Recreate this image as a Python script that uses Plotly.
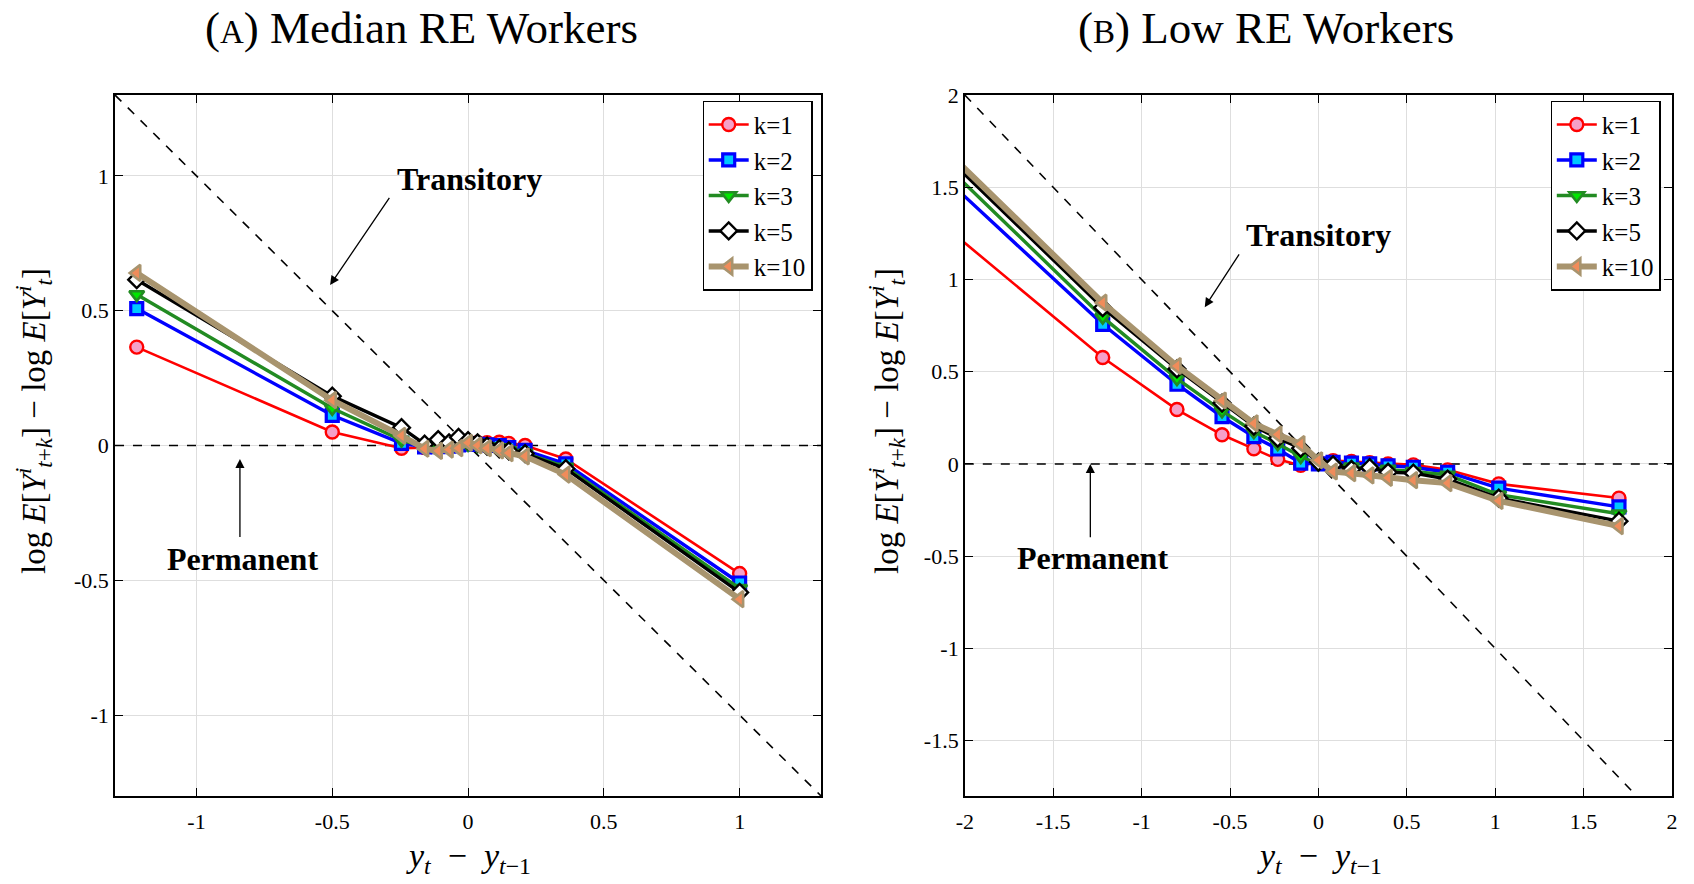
import plotly.graph_objects as go

# ---------------- data ----------------
series_names = ["k=1", "k=2", "k=3", "k=5", "k=10"]

# Panel A: Median RE workers
xA = [-1.22, -0.50, -0.245, -0.16, -0.11, -0.07, -0.035, 0.0, 0.035, 0.07, 0.115, 0.15, 0.21, 0.36, 1.0]
yA_k1 = [0.365, 0.050, -0.010, -0.008, -0.004, 0.000, 0.004, 0.008, 0.010, 0.010, 0.012, 0.008, 0.000, -0.050, -0.475]
yA_k2 = [0.508, 0.112, 0.008, -0.005, -0.004, -0.002, 0.002, 0.005, 0.004, 0.002, 0.000, -0.008, -0.018, -0.068, -0.510]
yA_k3 = [0.560, 0.138, 0.020, -0.005, -0.006, -0.004, 0.000, 0.004, 0.000, -0.004, -0.008, -0.018, -0.028, -0.080, -0.530]
yA_k5 = [0.615, 0.183, 0.066, 0.005, 0.022, 0.010, 0.030, 0.018, 0.010, -0.002, -0.012, -0.020, -0.030, -0.086, -0.545]
yA_k10 = [0.640, 0.168, 0.036, -0.012, -0.020, -0.015, -0.010, 0.010, 0.000, -0.010, -0.018, -0.028, -0.040, -0.108, -0.570]

# Panel B: Low RE workers
xB = [-2.3, -1.22, -0.80, -0.545, -0.365, -0.23, -0.10, 0.0, 0.083, 0.187, 0.29, 0.394, 0.537, 0.731, 1.02, 1.70]
yB_k1 = [1.437, 0.577, 0.295, 0.158, 0.082, 0.025, -0.008, 0.012, 0.018, 0.013, 0.007, 0.000, -0.005, -0.032, -0.108, -0.185]
yB_k2 = [1.716, 0.757, 0.432, 0.256, 0.148, 0.081, 0.005, 0.000, 0.008, 0.005, 0.000, -0.010, -0.018, -0.045, -0.131, -0.233]
yB_k3 = [1.798, 0.796, 0.463, 0.288, 0.175, 0.110, 0.040, 0.000, -0.008, -0.015, -0.025, -0.028, -0.040, -0.060, -0.167, -0.270]
yB_k5 = [1.848, 0.847, 0.515, 0.330, 0.205, 0.140, 0.085, 0.010, -0.005, -0.030, -0.020, -0.045, -0.050, -0.082, -0.185, -0.310]
yB_k10 = [1.879, 0.874, 0.531, 0.344, 0.220, 0.160, 0.108, 0.020, -0.041, -0.050, -0.062, -0.075, -0.088, -0.104, -0.200, -0.337]

# reference lines (x extents of each panel)
refA_x = [-1.3, 1.3]
refB_x = [-2.0, 2.0]

# ticks
tickA_vals = [-1, -0.5, 0, 0.5, 1]
tickA_text = ["-1", "-0.5", "0", "0.5", "1"]
tickBx_vals = [-2, -1.5, -1, -0.5, 0, 0.5, 1, 1.5, 2]
tickBx_text = ["-2", "-1.5", "-1", "-0.5", "0", "0.5", "1", "1.5", "2"]
tickBy_vals = [-1.5, -1, -0.5, 0, 0.5, 1, 1.5, 2]
tickBy_text = ["-1.5", "-1", "-0.5", "0", "0.5", "1", "1.5", "2"]

# ---------------- styles ----------------
FONT = "Liberation Serif"
styles = [
    dict(color="rgb(255,0,0)", symbol="circle", fill="rgb(245,160,200)", width=2.6, size=13, mlw=2.4),
    dict(color="rgb(0,0,255)", symbol="square", fill="rgb(0,200,255)", width=3.4, size=12, mlw=3.2),
    dict(color="rgb(34,139,34)", symbol="triangle-down", fill="rgb(0,230,0)", width=3.4, size=13, mlw=2.6),
    dict(color="rgb(0,0,0)", symbol="diamond", fill="rgb(255,255,255)", width=3.4, size=13, mlw=2.4),
    dict(color="rgb(168,148,110)", symbol="triangle-left", fill="rgb(240,140,90)", width=6, size=14, mlw=2.6),
]

fig = go.Figure()

def add_panel(x, ys, xa, ya, legend, refx):
    fig.add_trace(go.Scatter(x=refx, y=[-v for v in refx], mode="lines",
                             line=dict(color="black", width=1.6, dash="dash"),
                             xaxis=xa, yaxis=ya, showlegend=False, hoverinfo="skip"))
    fig.add_trace(go.Scatter(x=refx, y=[0 * v for v in refx], mode="lines",
                             line=dict(color="black", width=1.6, dash="dash"),
                             xaxis=xa, yaxis=ya, showlegend=False, hoverinfo="skip"))
    for name, y, st in zip(series_names, ys, styles):
        fig.add_trace(go.Scatter(
            x=x, y=y, mode="lines+markers", name=name,
            line=dict(color=st["color"], width=st["width"]),
            marker=dict(symbol=st["symbol"], size=st["size"], color=st["fill"],
                        line=dict(color=st["color"], width=st["mlw"])),
            xaxis=xa, yaxis=ya, legend=legend, cliponaxis=True))

add_panel(xA, [yA_k1, yA_k2, yA_k3, yA_k5, yA_k10], "x", "y", "legend", refA_x)
add_panel(xB, [yB_k1, yB_k2, yB_k3, yB_k5, yB_k10], "x2", "y2", "legend2", refB_x)

W, H = 1694, 884
ML, MR, MT, MB = 115, 22, 95, 88
PW, PH = W - ML - MR, H - MT - MB

def px(v):  # figure pixel x -> paper
    return (v - ML) / PW

def py(v):  # figure pixel y -> paper
    return (H - MB - v) / PH

axis_common = dict(showline=True, linecolor="black", linewidth=1.5, mirror="ticks",
                   ticks="inside", ticklen=8, tickcolor="black", tickwidth=1.2,
                   showgrid=True, gridcolor="rgb(222,222,222)", gridwidth=1,
                   zeroline=False, automargin=False,
                   tickfont=dict(family=FONT, size=22, color="black"))

legend_common = dict(font=dict(family=FONT, size=25, color="black"), bgcolor="white",
                     bordercolor="black", borderwidth=1.2, xanchor="right", yanchor="top",
                     tracegroupgap=0, itemwidth=40)

fig.update_layout(
    width=W, height=H, margin=dict(l=ML, r=MR, t=MT, b=MB, autoexpand=False),
    plot_bgcolor="white", paper_bgcolor="white",
    font=dict(family=FONT, color="black"),
    xaxis=dict(domain=[0, px(821.1)], range=refA_x, tickvals=tickA_vals, ticktext=tickA_text,
               ticklabelstandoff=5, **axis_common),
    yaxis=dict(domain=[0, 1], range=[-1.3, 1.3], tickvals=tickA_vals, ticktext=tickA_text, **axis_common),
    xaxis2=dict(domain=[px(964.8), 1], range=refB_x, tickvals=tickBx_vals, ticktext=tickBx_text, anchor="y2",
                ticklabelstandoff=5, **axis_common),
    yaxis2=dict(domain=[0, 1], range=[-1.8, 2.0], tickvals=tickBy_vals, ticktext=tickBy_text, anchor="x2", **axis_common),
    legend=dict(x=px(812.5), y=py(100.5), **legend_common),
    legend2=dict(x=px(1660.6), y=py(100.5), **legend_common),
)

ylabel = ("log <i>E</i>[<i>Y</i><sup><i>i</i></sup><sub><i>t</i>+<i>k</i></sub>]"
          " − log <i>E</i>[<i>Y</i><sup><i>i</i></sup><sub><i>t</i></sub>]")
xlabel = "<i>y</i><sub><i>t</i></sub>&nbsp; − &nbsp;<i>y</i><sub><i>t</i>−1</sub>"

ann = []
center = dict(xanchor="center", yanchor="middle", showarrow=False)
# panel titles
ann.append(dict(text="(<span style='font-size:33px'>A</span>) Median RE Workers", x=px(390 * 1694 / 1568), y=py(28),
                xref="paper", yref="paper", font=dict(family=FONT, size=45), **center))
ann.append(dict(text="(<span style='font-size:33px'>B</span>) Low RE Workers", x=px(1266), y=py(28),
                xref="paper", yref="paper", font=dict(family=FONT, size=45), **center))
# axis titles
for xp_, yp_ in [(33, 421), (886, 421)]:
    ann.append(dict(text=ylabel, x=px(xp_), y=py(yp_), xref="paper", yref="paper", textangle=-90,
                    font=dict(family=FONT, size=33), **center))
for xp_ in [468, 1319]:
    ann.append(dict(text=xlabel, x=px(xp_), y=py(858), xref="paper", yref="paper",
                    font=dict(family=FONT, size=34), **center))

bold = dict(family=FONT, size=32, color="black")
arrow = dict(showarrow=True, arrowhead=2, arrowsize=1.4, arrowwidth=1.3, arrowcolor="black",
             standoff=0, startstandoff=0)
# panel A annotations
ann.append(dict(text="<b>Transitory</b>", x=0.005, y=0.99, xref="x", yref="y", font=bold, **center))
ann.append(dict(text="", x=-0.508, y=0.595, ax=-0.286, ay=0.924, xref="x", yref="y", axref="x", ayref="y", **arrow))
ann.append(dict(text="<b>Permanent</b>", x=-0.83, y=-0.42, xref="x", yref="y", font=bold, **center))
ann.append(dict(text="", x=-0.84, y=-0.05, ax=-0.84, ay=-0.345, xref="x", yref="y", axref="x", ayref="y", **arrow))
# panel B annotations
ann.append(dict(text="<b>Transitory</b>", x=0.0, y=1.243, xref="x2", yref="y2", font=bold, **center))
ann.append(dict(text="", x=-0.643, y=0.85, ax=-0.443, ay=1.144, xref="x2", yref="y2", axref="x2", ayref="y2", **arrow))
ann.append(dict(text="<b>Permanent</b>", x=-1.28, y=-0.51, xref="x2", yref="y2", font=bold, **center))
ann.append(dict(text="", x=-1.29, y=0.0, ax=-1.29, ay=-0.405, xref="x2", yref="y2", axref="x2", ayref="y2", **arrow))

fig.update_layout(annotations=ann)
fig.write_html("out.html")
